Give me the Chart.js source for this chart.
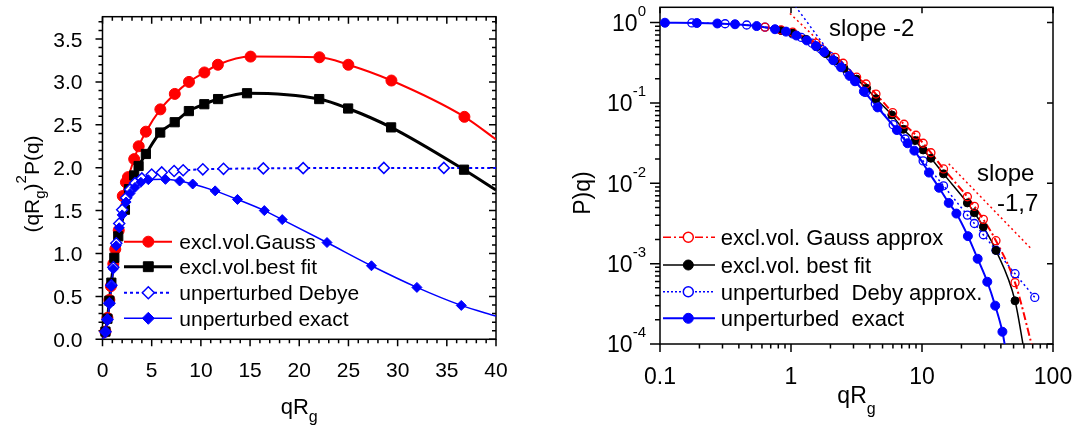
<!DOCTYPE html>
<html><head><meta charset="utf-8">
<script src="https://cdn.jsdelivr.net/npm/chart.js@4/dist/chart.umd.min.js"></script>
<style>
html,body{margin:0;padding:0;background:#fff;}
#wrap{position:relative;width:1078px;height:428px;overflow:hidden;}
canvas{position:absolute;top:0;}
#c1{left:0;} #c2{left:540px;}
</style></head><body>
<div id="wrap"><canvas id="c1" width="540" height="428"></canvas><canvas id="c2" width="538" height="428"></canvas></div>
<script>
// ===================== DATA =====================
// Left panel: (qRg)^2 P(q) vs qRg (linear)
const leftXTicks = [0,5,10,15,20,25,30,35,40];
const leftXTickLabels = ['0','5','10','15','20','25','30','35','40'];
const leftYTicks = [0,0.5,1,1.5,2,2.5,3,3.5];
const leftYTickLabels = ['0.0','0.5','1.0','1.5','2.0','2.5','3.0','3.5'];

const gaussX = [0.3,0.5,0.7,0.85,1.1,1.3,1.65,2.06,2.38,2.59,3.22,3.68,4.41,5.88,7.35,8.79,10.36,11.73,15.05,22.05,24.99,29.37,36.79];
const gaussY = [0.09,0.25,0.46,0.62,0.88,1.05,1.27,1.67,1.83,1.89,2.10,2.25,2.42,2.68,2.86,3.00,3.11,3.20,3.295,3.287,3.20,3.016,2.593];
const gaussStart = [0,0], gaussEnd = [40,2.33];

const fitX = [0.3,0.5,0.7,0.9,1.2,1.6,2.28,2.7,3.22,3.67,4.41,5.87,7.34,8.78,10.35,11.75,14.69,22.03,24.97,29.34,36.75];
const fitY = [0.09,0.24,0.45,0.66,0.95,1.20,1.51,1.75,1.91,2.02,2.16,2.41,2.53,2.66,2.74,2.80,2.868,2.80,2.69,2.47,1.977];
const fitStart = [0,0], fitEnd = [40,1.74];

const debyeX = [0.3,0.5,0.7,0.9,1.1,1.4,1.7,2.0,2.4,2.8,3.3,4.0,5.0,6.02,7.28,8.2,10.2,12.3,16.35,20.4,28.6,34.7];
const debyeY = [0.087,0.23,0.42,0.63,0.84,1.12,1.35,1.51,1.65,1.745,1.82,1.875,1.92,1.945,1.962,1.97,1.981,1.987,1.992,1.995,1.998,1.998];
const debyeStart = [0,0], debyeEnd = [40,1.998];

const exactX = [0.3,0.5,0.7,0.9,1.1,1.4,1.7,2.0,2.4,2.8,3.3,3.9,4.66,6.4,7.84,9.17,11.45,13.72,16.45,18.27,22.82,27.34,31.96,36.47];
const exactY = [0.087,0.23,0.42,0.62,0.82,1.09,1.30,1.45,1.60,1.70,1.77,1.83,1.86,1.864,1.845,1.81,1.73,1.63,1.50,1.395,1.128,0.857,0.605,0.395];
const exactStart = [0,0], exactEnd = [40,0.27];

const leftLegend = ['excl.vol.Gauss','excl.vol.best fit','unperturbed Debye','unperturbed exact'];

// Right panel: P(q) vs qRg (log-log)
const rightXTicks = [0.1,1,10,100];
const rightXTickLabels = ['0.1','1','10','100'];
const rightYTicks = [1,0.1,0.01,0.001,0.0001];
const rightYTickBase = '10';
const rightYTickExp = ['0','-1','-2','-3','-4'];

const rGaussX = [0.633,0.84,1.03,1.55,2.17,2.5,3.17,3.74,4.45,5.97,7.29,9.0,10.2,11.7,14.6,22.2,25.1,29.4,36.7,51.3];
const rGaussY = [0.876,0.81,0.76,0.554,0.37,0.312,0.209,0.172,0.129,0.0757,0.0543,0.0396,0.0315,0.024,0.0151,0.0068,0.00517,0.00356,0.00193,0.00058];
const rGaussEnd = [70,0.000088];

const rFitX = [0.84,1.03,1.3,1.57,1.85,2.17,2.54,3.17,3.78,4.45,5.88,7.2,8.85,10.2,11.7,14.6,22.2,25.1,29.4,36.7,51.3];
const rFitY = [0.80,0.74,0.62,0.50,0.41,0.335,0.27,0.198,0.152,0.113,0.071,0.047,0.034,0.026,0.0205,0.0131,0.0057,0.0043,0.00288,0.00146,0.000345];
const rFitEnd = [60,0.000085];

const rDebyeX = [0.175,0.314,0.459,0.633,0.84,1.03,1.2,1.45,1.7,2.0,2.3,2.7,3.1,3.7,4.4,6.02,7.43,10.2,14.6,22.2,25.1,29.4,36.7,51.3,72.6];
const rDebyeY = [0.99,0.968,0.933,0.879,0.801,0.723,0.653,0.554,0.466,0.377,0.307,0.237,0.187,0.135,0.098,0.0537,0.0356,0.019,0.0093,0.00402,0.00316,0.00229,0.00147,0.00075,0.00038];

const rExactX = [0.109,0.191,0.274,0.374,0.547,0.755,0.916,1.1,1.32,1.55,1.79,2.1,2.41,2.8,3.08,3.6,4.58,6.43,7.76,8.74,11.3,13.5,16.0,18.3,22.4,26.6,31.5,36.2,41.1];
const rExactY = [0.996,0.988,0.975,0.954,0.905,0.827,0.772,0.69,0.60,0.51,0.43,0.34,0.278,0.217,0.186,0.139,0.088,0.046,0.0315,0.0255,0.0136,0.0088,0.0057,0.0042,0.0022,0.00115,0.000595,0.0003,0.000142];
const rExactEnd = [43.2,0.00009];

// guide lines (dotted)
const slope2X = [1.08,2.3], slope2Y = [1.6,0.3];
const slopeRedTopX = [0.98,2.1], slopeRedTopY = [1.3,0.4];
const slope17X = [16,69], slope17Y = [0.0175,0.0015];

const rightLegend = ['excl.vol. Gauss approx','excl.vol. best fit','unperturbed  Deby approx.','unperturbed  exact'];

// ===================== HELPERS =====================
const FONT = "'Liberation Sans', Arial, Helvetica, sans-serif";
const RED = '#ff0000', BLUE = '#0000ff', BLACK = '#000000';
const pts = (xs, ys) => xs.map((x, i) => ({x: x, y: ys[i]}));
const withEnds = (xs, ys, start, end) => {
  const a = pts(xs, ys);
  if (start) a.unshift({x: start[0], y: start[1]});
  if (end) a.push({x: end[0], y: end[1]});
  return a;
};

function rich(ctx, segs, x, y, align, size, subSize, subOff, supOff) {
  const fontOf = k => (k === 'n' ? size : subSize) + 'px ' + FONT;
  const widths = segs.map(s => { ctx.font = fontOf(s[1]); return ctx.measureText(s[0]).width; });
  const total = widths.reduce((a, b) => a + b, 0);
  let cx = align === 'center' ? x - total / 2 : (align === 'right' ? x - total : x);
  ctx.textAlign = 'left'; ctx.textBaseline = 'alphabetic';
  segs.forEach((s, i) => {
    ctx.font = fontOf(s[1]);
    const dy = s[1] === 'sub' ? subOff : (s[1] === 'sup' ? supOff : 0);
    ctx.fillText(s[0], cx, y + dy);
    cx += widths[i];
  });
}

function marker(ctx, style, x, y, r, fill, stroke, lw) {
  ctx.save();
  ctx.beginPath();
  if (style === 'circle') ctx.arc(x, y, r, 0, Math.PI * 2);
  else if (style === 'rect') { const s = r * Math.SQRT1_2; ctx.rect(x - s, y - s, 2 * s, 2 * s); }
  else if (style === 'rectRot') { ctx.moveTo(x - r, y); ctx.lineTo(x, y - r); ctx.lineTo(x + r, y); ctx.lineTo(x, y + r); ctx.closePath(); }
  if (fill) { ctx.fillStyle = fill; ctx.fill(); }
  ctx.lineWidth = lw; ctx.strokeStyle = stroke; ctx.stroke();
  ctx.restore();
}

function legendLine(ctx, x1, x2, y, color, width, dash) {
  ctx.save();
  ctx.strokeStyle = color; ctx.lineWidth = width; ctx.setLineDash(dash || []);
  ctx.beginPath(); ctx.moveTo(x1, y); ctx.lineTo(x2, y); ctx.stroke();
  ctx.restore();
}

// ===================== LEFT CHART =====================
const leftDecor = {
  id: 'leftDecor',
  beforeDatasetsDraw(chart) {
    const {ctx, chartArea: a, scales: {x, y}} = chart;
    ctx.save();
    ctx.strokeStyle = BLACK; ctx.lineWidth = 1.5;
    ctx.beginPath();
    for (let i = 0; i <= 40; i++) {
      const px = x.getPixelForValue(i);
      const L = (i % 5 === 0) ? 7 : 4;
      ctx.moveTo(px, a.bottom); ctx.lineTo(px, a.bottom + L);
      ctx.moveTo(px, a.top); ctx.lineTo(px, a.top + L);
    }
    for (let i = 0; i <= 37; i++) {
      const py = y.getPixelForValue(i / 10);
      const L = (i % 5 === 0) ? 7 : 4;
      ctx.moveTo(a.left, py); ctx.lineTo(a.left - L, py);
      ctx.moveTo(a.right, py); ctx.lineTo(a.right - L, py);
    }
    ctx.stroke();
    ctx.strokeRect(a.left, a.top, a.right - a.left, a.bottom - a.top);
    ctx.restore();
  },
  afterDatasetsDraw(chart) {
    const {ctx, chartArea: a, scales: {x, y}} = chart;
    ctx.save();
    ctx.fillStyle = BLACK;
    ctx.font = '21px ' + FONT;
    ctx.textAlign = 'center'; ctx.textBaseline = 'alphabetic';
    leftXTicks.forEach((v, i) => ctx.fillText(leftXTickLabels[i], x.getPixelForValue(v), a.bottom + 38));
    ctx.textAlign = 'right';
    leftYTicks.forEach((v, i) => ctx.fillText(leftYTickLabels[i], a.left - 20, y.getPixelForValue(v) + 7.5));
    // axis titles
    rich(ctx, [['qR','n'],['g','sub']], (a.left + a.right) / 2, 414, 'center', 22, 16, 8, -12);
    ctx.save();
    ctx.translate(39, (a.top + a.bottom) / 2 + 6);
    ctx.rotate(-Math.PI / 2);
    rich(ctx, [['(qR','n'],['g','sub'],[')','n'],['2','sup'],['P(q)','n']], 0, 0, 'center', 21, 15, 6, -13);
    ctx.restore();
    // legend
    const ly = [241.7, 266.7, 292.7, 318.3];
    const lx1 = 124, lx2 = 172, mx = 148.3, tx = 179.3;
    legendLine(ctx, lx1, lx2, ly[0], RED, 2);
    marker(ctx, 'circle', mx, ly[0], 5.5, RED, RED, 1);
    legendLine(ctx, lx1, lx2, ly[1], BLACK, 3);
    marker(ctx, 'rect', mx, ly[1], 7, BLACK, BLACK, 1);
    legendLine(ctx, lx1, lx2, ly[2], BLUE, 2, [3, 3]);
    marker(ctx, 'rectRot', mx, ly[2], 6, '#ffffff', BLUE, 1.5);
    legendLine(ctx, lx1, lx2, ly[3], BLUE, 1.5);
    marker(ctx, 'rectRot', mx, ly[3], 6, BLUE, BLUE, 1);
    ctx.fillStyle = BLACK; ctx.font = '21px ' + FONT; ctx.textAlign = 'left';
    leftLegend.forEach((t, i) => ctx.fillText(t, tx, ly[i] + 7.5));
    ctx.restore();
  }
};

new Chart(document.getElementById('c1'), {
  type: 'scatter',
  data: {
    datasets: [
      {data: pts(exactX, exactY), pointStyle: 'rectRot', pointRadius: 5, backgroundColor: BLUE, borderColor: BLUE, borderWidth: 1, showLine: false, clip: false},
      {data: pts(debyeX, debyeY), pointStyle: 'rectRot', pointRadius: 5.5, backgroundColor: '#ffffff', borderColor: BLUE, borderWidth: 1.5, showLine: false, clip: false},
      {data: pts(fitX, fitY), pointStyle: 'rect', pointRadius: 6.5, backgroundColor: BLACK, borderColor: BLACK, borderWidth: 1, showLine: false, clip: false},
      {data: pts(gaussX, gaussY), pointStyle: 'circle', pointRadius: 5.5, backgroundColor: RED, borderColor: RED, borderWidth: 1, showLine: false, clip: false},
      {data: withEnds(exactX, exactY, exactStart, exactEnd), showLine: true, pointRadius: 0, borderColor: BLUE, borderWidth: 1.5, cubicInterpolationMode: 'monotone', fill: false},
      {data: withEnds(debyeX, debyeY, debyeStart, debyeEnd), showLine: true, pointRadius: 0, borderColor: BLUE, borderWidth: 2, borderDash: [3, 3], cubicInterpolationMode: 'monotone', fill: false},
      {data: withEnds(fitX, fitY, fitStart, fitEnd), showLine: true, pointRadius: 0, borderColor: BLACK, borderWidth: 3, cubicInterpolationMode: 'monotone', fill: false},
      {data: withEnds(gaussX, gaussY, gaussStart, gaussEnd), showLine: true, pointRadius: 0, borderColor: RED, borderWidth: 2, cubicInterpolationMode: 'monotone', fill: false}
    ]
  },
  options: {
    responsive: false, animation: false, devicePixelRatio: 1,
    layout: {padding: {left: 102.5, right: 44, top: 16.7, bottom: 88.7}},
    plugins: {legend: {display: false}, tooltip: {enabled: false}},
    events: [],
    scales: {
      x: {type: 'linear', min: 0, max: 40, display: false},
      y: {type: 'linear', min: 0, max: 3.76, display: false}
    }
  },
  plugins: [leftDecor]
});

// ===================== RIGHT CHART =====================
const rightDecor = {
  id: 'rightDecor',
  beforeDatasetsDraw(chart) {
    const {ctx, chartArea: a, scales: {x, y}} = chart;
    ctx.save();
    ctx.strokeStyle = BLACK; ctx.lineWidth = 1.5;
    ctx.beginPath();
    [0.1, 1, 10].forEach(d => {
      for (let m = 1; m <= 10; m++) {
        const v = d * m;
        const px = x.getPixelForValue(v);
        const major = (m === 1 || m === 10);
        const L = major ? 8 : 4.5;
        ctx.moveTo(px, a.bottom); ctx.lineTo(px, a.bottom + L);
        if (major) { ctx.moveTo(px, a.top); ctx.lineTo(px, a.top + 6); }
      }
    });
    [0.0001, 0.001, 0.01, 0.1].forEach(d => {
      for (let m = 1; m <= 10; m++) {
        const v = d * m;
        const py = y.getPixelForValue(v);
        const major = (m === 1 || m === 10);
        const L = major ? 10 : 5;
        ctx.moveTo(a.left, py); ctx.lineTo(a.left - L, py);
        if (major) { ctx.moveTo(a.right, py); ctx.lineTo(a.right - 6, py); }
      }
    });
    ctx.stroke();
    ctx.strokeRect(a.left, a.top, a.right - a.left, a.bottom - a.top);
    ctx.restore();
  },
  afterDatasetsDraw(chart) {
    const {ctx, chartArea: a, scales: {x, y}} = chart;
    ctx.save();
    ctx.fillStyle = BLACK;
    ctx.font = '23px ' + FONT;
    ctx.textAlign = 'center'; ctx.textBaseline = 'alphabetic';
    rightXTicks.forEach((v, i) => ctx.fillText(rightXTickLabels[i], x.getPixelForValue(v), a.bottom + 40));
    rightYTicks.forEach((v, i) => {
      const py = y.getPixelForValue(v);
      rich(ctx, [[rightYTickBase, 'n'], [rightYTickExp[i], 'sup']], a.left - 14, py + 8.3, 'right', 23, 15, 0, -15);
    });
    // titles
    rich(ctx, [['qR','n'],['g','sub']], (a.left + a.right) / 2, 403, 'center', 23, 16, 11, -12);
    ctx.save();
    ctx.translate(50, 193);
    ctx.rotate(-Math.PI / 2);
    ctx.font = '23px ' + FONT; ctx.textAlign = 'center';
    ctx.fillText('P)q)', 0, 0);
    ctx.restore();
    // annotations
    ctx.font = '24px ' + FONT; ctx.textAlign = 'left';
    ctx.fillText('slope -2', 289, 36);
    ctx.fillText('slope', 437, 181);
    ctx.fillText('-1,7', 457, 211);
    // legend
    const ly = [237.3, 265, 291.7, 318.3];
    const lx1 = 123, lx2 = 175, mx = 148.3, tx = 180.7;
    legendLine(ctx, lx1, lx2, ly[0], RED, 1.5, [8, 3, 2, 3]);
    marker(ctx, 'circle', mx, ly[0], 5, '#ffffff', RED, 1.5);
    legendLine(ctx, lx1, lx2, ly[1], BLACK, 1.5);
    marker(ctx, 'circle', mx, ly[1], 5, BLACK, BLACK, 1);
    legendLine(ctx, lx1, lx2, ly[2], BLUE, 1.5, [2, 2]);
    marker(ctx, 'circle', mx, ly[2], 5, '#ffffff', BLUE, 1.5);
    legendLine(ctx, lx1, lx2, ly[3], BLUE, 2);
    marker(ctx, 'circle', mx, ly[3], 5, BLUE, BLUE, 1);
    ctx.fillStyle = BLACK; ctx.font = '22px ' + FONT; ctx.textAlign = 'left';
    rightLegend.forEach((t, i) => ctx.fillText(t, tx, ly[i] + 8));
    ctx.restore();
  }
};

new Chart(document.getElementById('c2'), {
  type: 'scatter',
  data: {
    datasets: [
      {data: pts(rExactX, rExactY), pointStyle: 'circle', pointRadius: 4.5, backgroundColor: BLUE, borderColor: BLUE, borderWidth: 1, showLine: false, clip: false},
      {data: pts(rGaussX, rGaussY), pointStyle: 'circle', pointRadius: 4, backgroundColor: 'rgba(0,0,0,0)', borderColor: RED, borderWidth: 1.3, showLine: false, clip: false},
      {data: pts(rFitX, rFitY), pointStyle: 'circle', pointRadius: 4, backgroundColor: BLACK, borderColor: BLACK, borderWidth: 1, showLine: false, clip: false},
      {data: pts(rDebyeX, rDebyeY), pointStyle: 'circle', pointRadius: 4, backgroundColor: 'rgba(0,0,0,0)', borderColor: BLUE, borderWidth: 1.3, showLine: false, clip: false},
      {data: withEnds(rExactX, rExactY, null, rExactEnd), showLine: true, pointRadius: 0, borderColor: BLUE, borderWidth: 2, cubicInterpolationMode: 'monotone', fill: false},
      {data: withEnds(rGaussX, rGaussY, null, rGaussEnd), showLine: true, pointRadius: 0, borderColor: RED, borderWidth: 2, borderDash: [8, 3, 2, 3], cubicInterpolationMode: 'monotone', fill: false},
      {data: withEnds(rFitX, rFitY, null, rFitEnd), showLine: true, pointRadius: 0, borderColor: BLACK, borderWidth: 1.5, cubicInterpolationMode: 'monotone', fill: false},
      {data: pts(rDebyeX, rDebyeY), showLine: true, pointRadius: 0, borderColor: BLUE, borderWidth: 1.5, borderDash: [2, 3], cubicInterpolationMode: 'monotone', fill: false},
      {data: pts(slope2X, slope2Y), showLine: true, pointRadius: 0, borderColor: BLUE, borderWidth: 1.5, borderDash: [2, 3], fill: false},
      {data: pts(slopeRedTopX, slopeRedTopY), showLine: true, pointRadius: 0, borderColor: RED, borderWidth: 1.5, borderDash: [2, 3], fill: false},
      {data: pts(slope17X, slope17Y), showLine: true, pointRadius: 0, borderColor: RED, borderWidth: 1.5, borderDash: [2, 3], fill: false}
    ]
  },
  options: {
    responsive: false, animation: false, devicePixelRatio: 1,
    layout: {padding: {left: 120, right: 25, top: 7.3, bottom: 84}},
    plugins: {legend: {display: false}, tooltip: {enabled: false}},
    events: [],
    scales: {
      x: {type: 'logarithmic', min: 0.1, max: 100, display: false},
      y: {type: 'logarithmic', min: 0.0001, max: 1.55, display: false}
    }
  },
  plugins: [rightDecor]
});
</script>
</body></html>
